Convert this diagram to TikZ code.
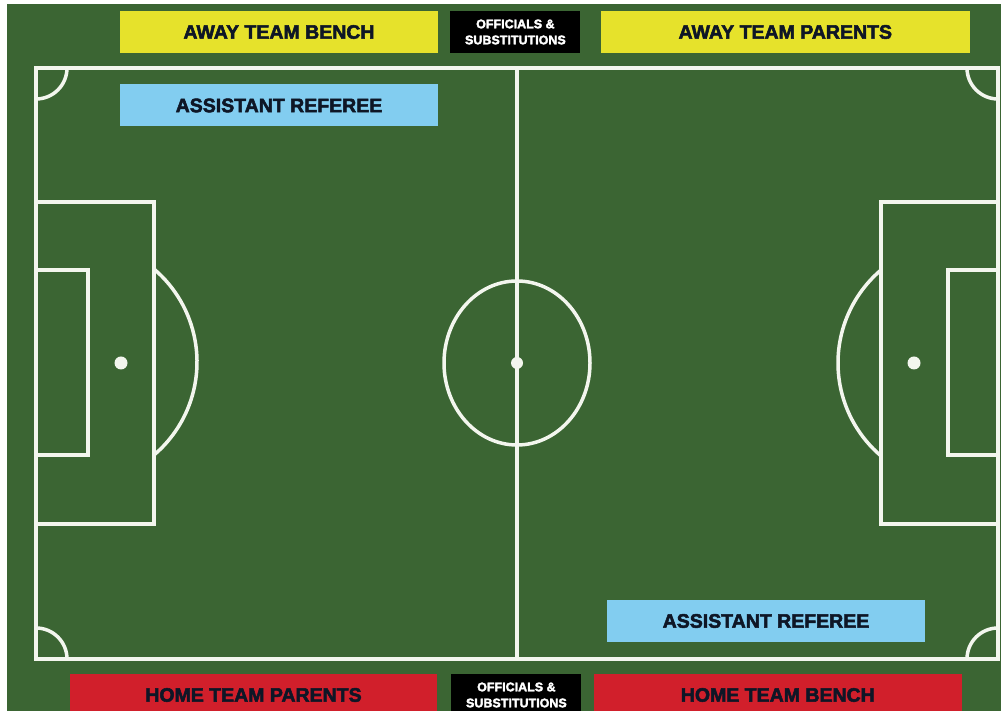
\documentclass[tikz,border=0pt]{standalone}
\usepackage{xcolor}
\usepackage{fontspec}
\setmainfont{Liberation Sans}[BoldFeatures={FakeBold=2.6}]
\usepackage{tikz}
\usetikzlibrary{positioning}

\definecolor{turf}{HTML}{3B6533}
\definecolor{chalk}{HTML}{F3F6EE}
\definecolor{awayyellow}{HTML}{E6E22B}
\definecolor{refblue}{HTML}{82CDF0}
\definecolor{homered}{HTML}{D11F2B}
\definecolor{signink}{HTML}{0E1626}

\begin{document}
\begin{tikzpicture}[
    x=1pt, y=1pt,
    sign/.style={rectangle, minimum height=42pt, inner sep=0pt, align=center,
                 font=\bfseries\fontsize{19.5}{22}\selectfont, text=signink},
    awaysign/.style={sign, fill=awayyellow},
    homesign/.style={sign, fill=homered},
    refsign/.style={sign, fill=refblue, minimum width=318pt},
    officials/.style={sign, fill=black, text=white, minimum width=130pt,
                      font=\bfseries\fontsize{12.5}{16}\selectfont},
    pitchline/.style={draw=chalk, line width=3.5pt},
    spot/.style={circle, fill=chalk, inner sep=0pt, minimum size=13pt}
]
\useasboundingbox (0,0) rectangle (1001,711);
\clip (0,0) rectangle (1001,711);
\fill[white] (0,0) rectangle (1001,711);
\fill[turf] (7,0) rectangle (1001,707);

% pitch markings
\draw[pitchline] (36,52) rectangle (998,643);
\draw[pitchline] (517,52) -- (517,643);
\draw[pitchline] (517,348) ellipse [x radius=73pt, y radius=82pt];
\node[spot, minimum size=12pt] (centrespot) at (517,348) {};

% left end
\draw[pitchline] (36,187) rectangle (154,509);
\draw[pitchline] (36,256) rectangle (88,441);
\draw[pitchline] (154,256) arc[start angle=-49.65, end angle=49.65, radius=122pt];
\node[spot] (leftspot) at (121,348) {};

% right end
\draw[pitchline] (881,187) rectangle (998,509);
\draw[pitchline] (948,256) rectangle (998,441);
\draw[pitchline] (881,441) arc[start angle=130.35, end angle=229.65, radius=122pt];
\node[spot] (rightspot) at (914,348) {};

% corner arcs
\draw[pitchline] (67,643) arc[start angle=0, end angle=-90, radius=31pt];
\draw[pitchline] (998,612) arc[start angle=-90, end angle=-180, radius=31pt];
\draw[pitchline] (36,83) arc[start angle=90, end angle=0, radius=31pt];
\draw[pitchline] (967,52) arc[start angle=180, end angle=90, radius=31pt];

% signs along the touchlines
\node[awaysign, minimum width=318pt] (awaybench) at (279,679) {AWAY TEAM BENCH};
\node[officials, right=12pt of awaybench] (officialstop) {OFFICIALS \&\\SUBSTITUTIONS};
\node[awaysign, minimum width=369pt, right=20pt of officialstop] (awayparents) {AWAY TEAM PARENTS};

\node[refsign] (reftop) at (279,605.5) {ASSISTANT REFEREE};
\node[refsign] (refbottom) at (766,90) {ASSISTANT REFEREE};

\node[homesign, minimum width=367pt] (homeparents) at (253.5,16) {HOME TEAM PARENTS};
\node[officials, right=14pt of homeparents] (officialsbottom) {OFFICIALS \&\\SUBSTITUTIONS};
\node[homesign, minimum width=368pt, right=12pt of officialsbottom] (homebench) {HOME TEAM BENCH};
\end{tikzpicture}
\end{document}
